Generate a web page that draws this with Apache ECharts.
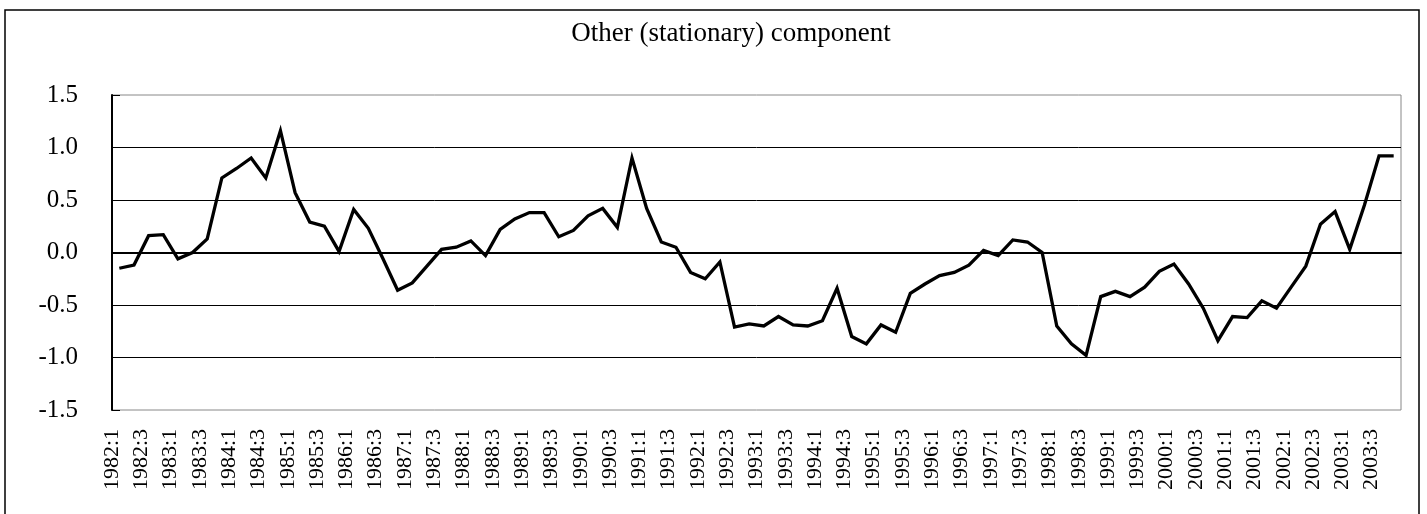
<!DOCTYPE html>
<html>
<head>
<meta charset="utf-8">
<script src="https://cdn.jsdelivr.net/npm/echarts@6/dist/echarts.min.js"></script>
<style>
  html, body { margin: 0; padding: 0; background: #fff; }
  #chart { width: 1427px; height: 514px; }
</style>
</head>
<body>
<div id="chart"></div>
<script>
// quarters 1982:1 .. 2003:4
const years = [1982, 1983, 1984, 1985, 1986, 1987, 1988, 1989, 1990, 1991, 1992,
  1993, 1994, 1995, 1996, 1997, 1998, 1999, 2000, 2001, 2002, 2003]
const quarters = [1, 2, 3, 4]
const categories = []
years.forEach(y => quarters.forEach(q => categories.push(y + ':' + q)))

const otherComponent = [
  -0.15, -0.12, 0.16, 0.17, -0.06, 0.00, 0.13, 0.71,
  0.80, 0.90, 0.71, 1.16, 0.57, 0.29, 0.25, 0.01,
  0.41, 0.23, -0.06, -0.36, -0.29, -0.13, 0.03, 0.05,
  0.11, -0.03, 0.22, 0.32, 0.38, 0.38, 0.15, 0.21,
  0.35, 0.42, 0.24, 0.90, 0.42, 0.10, 0.05, -0.19,
  -0.25, -0.09, -0.71, -0.68, -0.70, -0.61, -0.69, -0.70,
  -0.65, -0.34, -0.80, -0.87, -0.69, -0.76, -0.39, -0.30,
  -0.22, -0.19, -0.12, 0.02, -0.03, 0.12, 0.10, 0.00,
  -0.70, -0.87, -0.98, -0.42, -0.37, -0.42, -0.33, -0.18,
  -0.11, -0.30, -0.53, -0.84, -0.61, -0.62, -0.46, -0.53,
  -0.33, -0.13, 0.27, 0.39, 0.03, 0.45, 0.92, 0.92
]

const yMin = -1.5
const yMax = 1.5
const yStep = 0.5

const serif = 'Liberation Serif'
const chart = echarts.init(document.getElementById('chart'))

chart.setOption({
  animation: false,
  backgroundColor: '#fff',
  title: {
    text: 'Other (stationary) component',
    left: 726,
    top: 15,
    textAlign: 'center',
    textStyle: { fontFamily: serif, fontSize: 27, fontWeight: 'normal', color: '#000' }
  },
  graphic: [{
    type: 'rect',
    shape: { x: 5, y: 10, width: 1414, height: 520 },
    style: { fill: 'none', stroke: '#000', lineWidth: 1.5 },
    silent: true
  }],
  grid: {
    left: 112,
    right: 26,
    top: 95,
    bottom: 104,
    show: true,
    borderColor: '#888',
    borderWidth: 1
  },
  xAxis: [{
    // data axis: points sit in the middle of each quarter
    type: 'category',
    data: categories,
    boundaryGap: true,
    position: 'bottom',
    axisLine: { lineStyle: { color: '#000', width: 2 } },
    axisTick: { inside: true, length: 9, interval: 0, lineStyle: { color: '#000', width: 1 } },
    axisLabel: { show: false },
    splitLine: { show: false }
  }, {
    // label axis: labels sit on the quarter boundaries, like the original
    type: 'category',
    data: categories.concat(['']),
    boundaryGap: false,
    position: 'bottom',
    axisLine: { show: false },
    axisTick: { show: false },
    splitLine: { show: false },
    axisLabel: {
      rotate: 90,
      margin: 19,
      interval: 0,
      formatter: (v, i) => (i % 2 === 0 && i < categories.length ? v : ''),
      fontFamily: serif,
      fontSize: 22,
      color: '#000'
    }
  }],
  yAxis: {
    type: 'value',
    min: yMin,
    max: yMax,
    interval: yStep,
    axisLine: { show: true, lineStyle: { color: '#000', width: 2 } },
    axisTick: { show: true, inside: true, length: 8, lineStyle: { color: '#000' } },
    axisLabel: {
      margin: 34,
      formatter: v => v.toFixed(1),
      fontFamily: serif,
      fontSize: 25,
      color: '#000'
    },
    splitLine: { show: true, showMinLine: false, showMaxLine: false, lineStyle: { color: '#000', width: 1 } }
  },
  series: [{
    name: 'Other (stationary) component',
    type: 'line',
    xAxisIndex: 0,
    data: otherComponent,
    symbol: 'none',
    lineStyle: { color: '#000', width: 3.3, join: 'miter' },
    itemStyle: { color: '#000' },
    z: 5
  }]
})
</script>
</body>
</html>
